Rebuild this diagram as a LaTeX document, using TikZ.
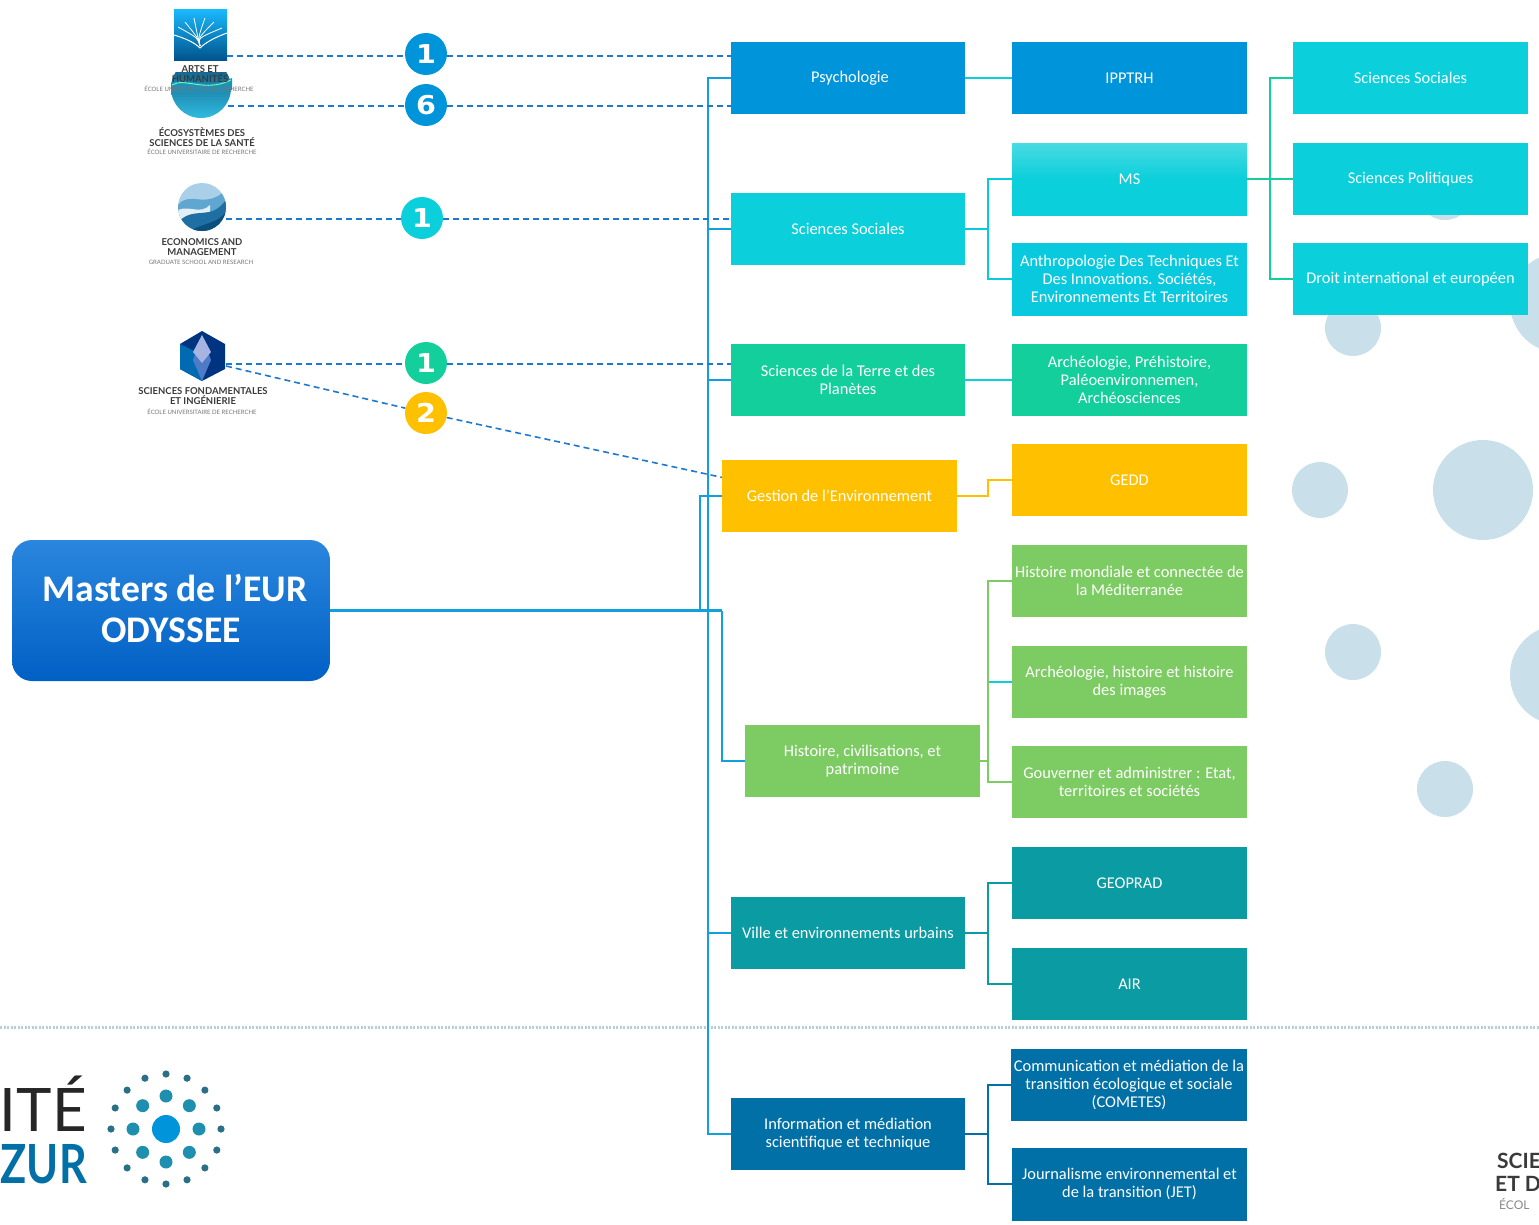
\documentclass[tikz,border=0pt]{standalone}
\usepackage{fontspec}
\setmainfont{Carlito}
\newfontfamily\logofont{Lato}
\newfontfamily\numfont{DejaVu Sans}
\usetikzlibrary{positioning}
\definecolor{psyblue}{HTML}{0095DA}
\definecolor{socteal}{HTML}{0BCFDA}
\definecolor{anthroteal}{HTML}{08C9DD}
\definecolor{terregreen}{HTML}{12CF9B}
\definecolor{gestyellow}{HTML}{FFC000}
\definecolor{histgreen}{HTML}{7DCB63}
\definecolor{villeteal}{HTML}{0A9BA3}
\definecolor{infoblue}{HTML}{0070A6}
\definecolor{busblue}{HTML}{12A0DC}
\definecolor{dashblue}{HTML}{1D78D0}
\definecolor{spotblue}{HTML}{C9E0EB}
\definecolor{logotext}{HTML}{3A3A3A}
\definecolor{ringone}{HTML}{1E8FAF}
\definecolor{ringtwo}{HTML}{2A6F85}
\definecolor{dotline}{HTML}{B7D0D6}
\definecolor{mastop}{HTML}{2A86DE}
\definecolor{masbot}{HTML}{0060C4}
\definecolor{wavedark}{HTML}{0B4F7A}
\definecolor{wavelight}{HTML}{30BCE0}
\definecolor{ecotop}{HTML}{A9D0E8}
\definecolor{ecomid}{HTML}{5FA6D0}
\definecolor{ecolow}{HTML}{1F6FA5}
\newcommand{\widenum}[1]{\scalebox{1.1}[1]{#1}}
\tikzset{
    x=1pt, y=-1pt,
    boxnode/.style={minimum width=235pt, minimum height=72pt, inner sep=1pt, align=center, text=white, font=\fontsize{16.4}{18}\selectfont},
    badge/.style={circle, minimum size=42pt, inner sep=0pt, text=white, font=\numfont\fontsize{26}{26}\selectfont\bfseries},
    bus/.style={line width=2.5pt, color=busblue},
    link/.style={line width=1.8pt},
    dashlink/.style={line width=1.6pt, color=dashblue, dash pattern=on 6pt off 4pt},
    logotitle/.style={inner sep=0pt, align=center, text=logotext, font=\logofont\fontsize{9.5}{10}\selectfont\bfseries},
    logosub/.style={inner sep=0pt, text=logotext!70, font=\logofont\fontsize{6}{6}\selectfont},
    spot/.style={fill=spotblue}
}

\begin{document}
\begin{tikzpicture}
    \useasboundingbox (0,0) rectangle (1539,1224);

    % background spots
    \fill[spot] (1353,328) circle (28);
    \fill[spot] (1320,490) circle (28);
    \fill[spot] (1483,490) circle (50);
    \fill[spot] (1353,652) circle (28);
    \fill[spot] (1445,789) circle (28);
    \fill[spot] (1445,192) circle (28);
    \fill[spot] (1560,675) circle (50);
    \fill[spot] (1560,303) circle (50);

    \draw[line width=3pt, color=dotline, dash pattern=on 2pt off 1.5pt] (0,1027) -- (1539,1027);

    % main title
    \node[rounded corners=20pt, minimum width=318pt, minimum height=141pt, top color=mastop, bottom color=masbot] (masters) at (171,610.5) {};
    \node[align=center, text=white, font=\fontsize{37.6}{41}\selectfont\bfseries] (mastersname) at (171,608) {\hspace*{8pt}Masters de l’EUR\\ODYSSEE};

    % first level
    \node[boxnode, fill=psyblue, minimum width=234pt] (psy) at (848,78) {\hspace*{4pt}Psychologie};
    \node[boxnode, fill=socteal, minimum width=234pt] (soc) at (848,229) {Sciences Sociales};
    \node[boxnode, fill=terregreen, minimum width=234pt] (terre) at (848,380) {Sciences de la Terre et des\\Planètes};
    \node[boxnode, fill=gestyellow] (gestion) at (839.5,496) {Gestion de l’Environnement};
    \node[boxnode, fill=histgreen] (hist) at (862.5,761) {Histoire, civilisations, et\\patrimoine};
    \node[boxnode, fill=villeteal, minimum width=234pt] (ville) at (848,933) {Ville et environnements urbains};
    \node[boxnode, fill=infoblue, minimum width=234pt] (info) at (848,1134) {Information et médiation\\scientifique et technique};

    % second level
    \node[boxnode, fill=psyblue] (ipp) at (1129.5,78) {IPPTRH};
    \node[boxnode, top color=socteal!75!white, bottom color=socteal, middle color=socteal] (ms) at (1129.5,179) {MS};
    \node[boxnode, fill=anthroteal, minimum height=73pt] (anthro) at (1129.5,279) {Anthropologie Des Techniques Et\\Des Innovations. Sociétés,\\Environnements Et Territoires};
    \node[boxnode, fill=terregreen] (archeo) at (1129.5,380) {Archéologie, Préhistoire,\\Paléoenvironnemen,\\Archéosciences};
    \node[boxnode, fill=gestyellow] (gedd) at (1129.5,480) {GEDD};
    \node[boxnode, fill=histgreen] (mond) at (1129.5,581) {Histoire mondiale et connectée de\\la Méditerranée};
    \node[boxnode, fill=histgreen] (images) at (1129.5,682) {Archéologie, histoire et histoire\\des images};
    \node[boxnode, fill=histgreen] (gouv) at (1129.5,782) {Gouverner et administrer : Etat,\\territoires et sociétés};
    \node[boxnode, fill=villeteal] (geo) at (1129.5,883) {GEOPRAD};
    \node[boxnode, fill=villeteal] (air) at (1129.5,984) {AIR};
    \node[boxnode, fill=infoblue, minimum width=236pt] (comm) at (1129,1085) {Communication et médiation de la\\transition écologique et sociale\\(COMETES)};
    \node[boxnode, fill=infoblue, minimum height=73pt] (jet) at (1129.5,1184) {Journalisme environnemental et\\de la transition (JET)};

    % third level
    \node[boxnode, fill=socteal] (socb) at (1410.5,78) {Sciences Sociales};
    \node[boxnode, fill=socteal] (poli) at (1410.5,179) {Sciences Politiques};
    \node[boxnode, fill=socteal] (droit) at (1410.5,279) {Droit international et européen};

    % bus from the title
    \coordinate (busa) at (708,610.5);
    \coordinate (busb) at (700,610.5);
    \coordinate (busc) at (722,610.5);
    \draw[bus, line width=3pt] (masters.east) -- (busc);
    \draw[bus] (busa) |- (psy.west);
    \draw[bus] (busa) |- (soc.west);
    \draw[bus] (busa) |- (terre.west);
    \draw[bus] (busa) |- (ville.west);
    \draw[bus] (busa) |- (info.west);
    \draw[bus] (busb) |- (gestion.west);
    \draw[bus] (busc) |- (hist.west);

    % boxes to boxes
    \draw[link, color=socteal] (psy.east) -- (ipp.west);
    \draw[link, color=anthroteal] (soc.east) -- ++(23,0) |- (ms.west);
    \draw[link, color=anthroteal] (soc.east) -- ++(23,0) |- (anthro.west);
    \draw[link, color=terregreen] (ms.east) -- ++(23,0) |- (socb.west);
    \draw[link, color=terregreen] (ms.east) -- (poli.west);
    \draw[link, color=terregreen] (ms.east) -- ++(23,0) |- (droit.west);
    \draw[link, color=socteal] (terre.east) -- (archeo.west);
    \draw[link, color=gestyellow] (gestion.east) -- ++(31,0) |- (gedd.west);
    \draw[link, color=socteal] (hist.east) ++(8,0) |- (images.west);
    \draw[link, color=histgreen] (hist.east) -- ++(8,0) |- (mond.west);
    \draw[link, color=histgreen] (hist.east) -- ++(8,0) |- (gouv.west);
    \draw[link, color=villeteal] (ville.east) -- ++(23,0) |- (geo.west);
    \draw[link, color=villeteal] (ville.east) -- ++(23,0) |- (air.west);
    \draw[link, color=infoblue] (info.east) -- ++(23,0) |- (comm.west);
    \draw[link, color=infoblue] (info.east) -- ++(23,0) |- (jet.west);

    % sante logo
    \begin{scope}
        \clip (165,72) rectangle (240,125);
        \shade[top color=wavedark, middle color=wavedark, bottom color=wavelight] (201,88) circle (30);
        \fill[wavelight!60!wavedark] (171,83) .. controls (185,75) and (205,92) .. (232,78) -- (232,90) .. controls (205,100) and (185,88) .. (171,95) -- cycle;
        \draw[green!40!cyan!60, line width=0.9pt] (172,85) .. controls (185,77) and (205,93) .. (231,80);
    \end{scope}
    \node[logotitle] (santename) at (202,137) {ÉCOSYSTÈMES DES\\SCIENCES DE LA SANTÉ};
    \node[logosub] (santesub) at (202,152) {ÉCOLE UNIVERSITAIRE DE RECHERCHE};

    % arts logo
    \shade[top color=cyan!70!blue!90, bottom color=blue!40!cyan!55!black] (174,9) rectangle (227,60);
    \draw[white, line width=1pt] (174,35) .. controls (184,38) and (194,42) .. (200,48) .. controls (206,42) and (216,37) .. (227,33);
    \foreach \tipx/\tipy in {178/27, 185/22, 194/18, 205/18, 214/22, 222/28}
        \draw[white, line width=0.8pt] (200,46) .. controls (198,38) .. (\tipx,\tipy);
    \node[logotitle] (artsname) at (200,74) {ARTS ET\\HUMANITÉS};
    \node[logosub] (artssub) at (199,89) {ÉCOLE UNIVERSITAIRE DE RECHERCHE};

    % eco logo
    \begin{scope}
        \clip (202,207) circle (24);
        \fill[ecotop] (178,183) rectangle (226,231);
        \fill[ecomid] (178,205) .. controls (190,190) and (205,210) .. (226,190) -- (226,231) -- (178,231) -- cycle;
        \fill[spotblue!50] (178,210) .. controls (190,205) and (200,215) .. (210,205) -- (210,231) -- (178,231) -- cycle;
        \fill[ecolow] (178,222) .. controls (195,205) and (210,222) .. (226,200) -- (226,231) -- (178,231) -- cycle;
        \fill[wavedark] (190,231) .. controls (205,222) and (215,225) .. (226,212) -- (226,231) -- cycle;
    \end{scope}
    \node[logotitle] (econame) at (202,247) {ECONOMICS AND\\MANAGEMENT};
    \node[logosub] (ecosub) at (201,262) {GRADUATE SCHOOL AND RESEARCH};

    % sfi logo
    \fill[blue!60!cyan!50!black] (202,331) -- (225,344) -- (225,369) -- (202,381) -- (180,369) -- (180,344) -- cycle;
    \fill[blue!40!cyan!70!black] (180,344) -- (196,352) -- (202,381) -- (180,369) -- cycle;
    \fill[cyan!40!blue!75] (196,352) -- (202,358) -- (208,352) -- (211,360) -- (202,381) -- (193,360) -- cycle;
    \fill[cyan!35!blue!35] (202,335) -- (211,352) -- (202,363) -- (193,352) -- cycle;
    \node[logotitle] (sfiname) at (203,396) {SCIENCES FONDAMENTALES\\ET INGÉNIERIE};
    \node[logosub] (sfisub) at (202,412) {ÉCOLE UNIVERSITAIRE DE RECHERCHE};

    % ends of the dashed links
    \coordinate (artsend) at (227,56);
    \coordinate (santeend) at (228,106);
    \coordinate (ecoend) at (226,219);
    \coordinate (sfiend) at (226,364);
    \coordinate (sfiendb) at (226,366);

    \node[badge, fill=psyblue] (numa) at (426,54) {\widenum{1}};
    \node[badge, fill=psyblue] (numb) at (426,105) {\widenum{6}};
    \node[badge, fill=socteal] (numc) at (422,218) {\widenum{1}};
    \node[badge, fill=terregreen] (numd) at (426,363) {\widenum{1}};
    \node[badge, fill=gestyellow] (nume) at (426,413) {\widenum{2}};

    \draw[dashlink] (artsend) -- (artsend -| numa.west);
    \draw[dashlink] (artsend -| numa.east) -- (artsend -| psy.west);
    \draw[dashlink] (santeend) -- (santeend -| numb.west);
    \draw[dashlink] (santeend -| numb.east) -- (santeend -| psy.west);
    \draw[dashlink] (ecoend) -- (ecoend -| numc.west);
    \draw[dashlink] (ecoend -| numc.east) -- (ecoend -| soc.west);
    \draw[dashlink] (sfiend) -- (sfiend -| numd.west);
    \draw[dashlink] (sfiend -| numd.east) -- (sfiend -| terre.west);
    \draw[dashlink] (sfiendb) -- (nume);
    \draw[dashlink] (nume) -- (gestion.171);

    % university logo
    \node[anchor=east, inner sep=0pt, text=black!85, font=\logofont\fontsize{60}{60}\selectfont\mdseries] (unia) at (87,1104) {ITÉ};
    \node[anchor=east, inner sep=0pt, text=infoblue, font=\logofont\fontsize{54}{54}\selectfont\bfseries] (unib) at (87,1164) {\scalebox{.8}[1]{ZUR}};
    \fill[color=psyblue] (166,1129) circle (14);
    \foreach \ang in {0,45,...,315}
        \fill[color=ringone] (166,1129) ++(\ang:33) circle (6.5);
    \foreach \ang in {0,22.5,...,337.5}
        \fill[color=ringtwo] (166,1129) ++(\ang:55) circle (3.6);

    % second logo, cut by the page
    \node[anchor=west, inner sep=0pt, text=logotext, font=\logofont\fontsize{21}{21}\selectfont\bfseries] (scia) at (1497,1161) {SCIE};
    \node[anchor=west, inner sep=0pt, text=logotext, font=\logofont\fontsize{21}{21}\selectfont\bfseries] (scib) at (1495,1184) {ET D};
    \node[anchor=west, inner sep=0pt, text=logotext!60, font=\logofont\fontsize{12}{12}\selectfont] (scic) at (1499,1204) {ÉCOL};
\end{tikzpicture}
\end{document}
